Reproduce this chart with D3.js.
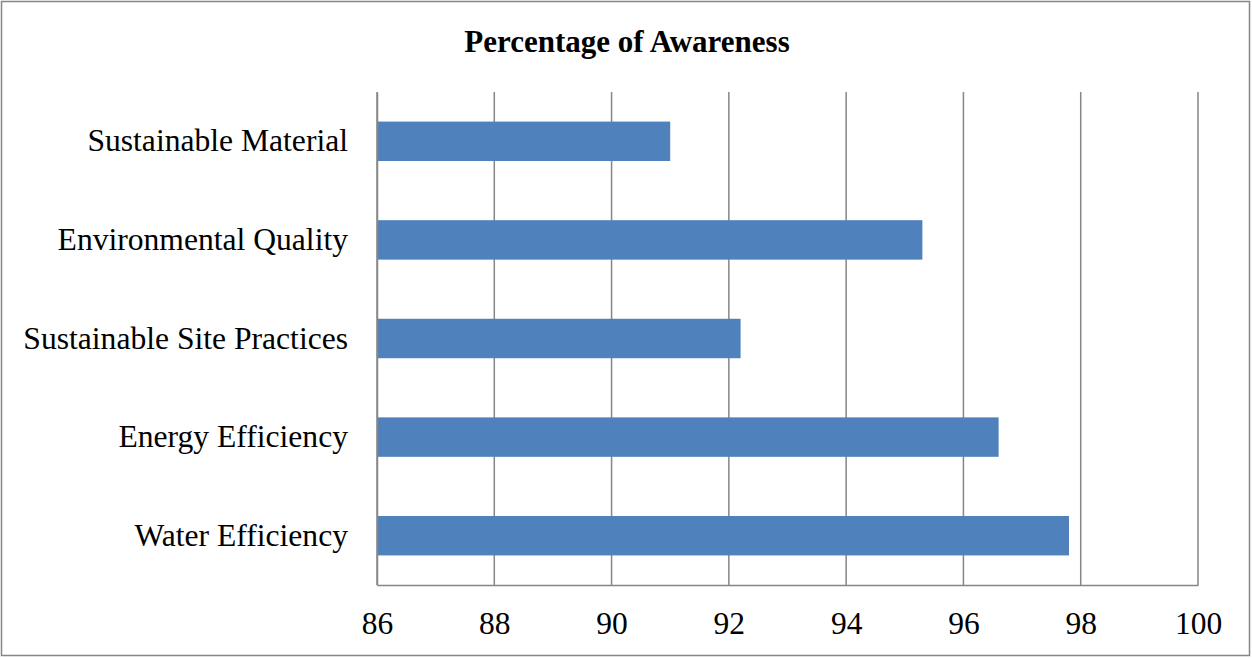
<!DOCTYPE html>
<html>
<head>
<meta charset="utf-8">
<script src="https://cdn.jsdelivr.net/npm/d3@7"></script>
<style>
  html, body { margin: 0; padding: 0; background: #fff; }
  svg { display: block; }
</style>
</head>
<body>
<svg id="chart" width="1252" height="658"></svg>
<script>
// Awareness by sustainability category (percent)
const categories = [
  "Sustainable Material",
  "Environmental Quality",
  "Sustainable Site Practices",
  "Energy Efficiency",
  "Water Efficiency"
];
const awareness = [91.0, 95.3, 92.2, 96.6, 97.8];
const xTicks = [86, 88, 90, 92, 94, 96, 98, 100];
const chartTitle = "Percentage of Awareness";

const svg = d3.select("#chart");
const W = 1252, H = 658;
const margin = { top: 92, right: 54, bottom: 73, left: 377 };
const innerW = W - margin.left - margin.right;
const innerH = H - margin.top - margin.bottom;
const font = "'Liberation Serif', 'Times New Roman', serif";
const gridColor = "#868686";

// outer frame
svg.append("rect")
  .attr("x", 1.5).attr("y", 1.5)
  .attr("width", W - 4).attr("height", H - 4)
  .attr("fill", "#fff")
  .attr("stroke", gridColor)
  .attr("stroke-width", 1.5);

svg.append("text")
  .attr("x", 627).attr("y", 52)
  .attr("text-anchor", "middle")
  .attr("font-family", font)
  .attr("font-weight", "bold")
  .attr("font-size", 31)
  .attr("fill", "#000")
  .text(chartTitle);

const x = d3.scaleLinear().domain([86, 100]).range([0, innerW]);
const y = d3.scaleBand().domain(categories).range([0, innerH]).paddingInner(0.6).paddingOuter(0.3);

const g = svg.append("g").attr("transform", `translate(${margin.left},${margin.top})`);

// vertical gridlines
g.append("g")
  .selectAll("line")
  .data(xTicks)
  .join("line")
  .attr("x1", d => x(d)).attr("x2", d => x(d))
  .attr("y1", 0).attr("y2", innerH)
  .attr("stroke", gridColor)
  .attr("stroke-width", 1.5);

// bars
g.append("g")
  .selectAll("rect")
  .data(categories)
  .join("rect")
  .attr("x", x(86))
  .attr("y", d => y(d))
  .attr("width", (d, i) => x(awareness[i]) - x(86))
  .attr("height", y.bandwidth())
  .attr("fill", "#4F81BD");

// x axis
const xAxis = g.append("g")
  .attr("transform", `translate(0,${innerH})`)
  .call(d3.axisBottom(x).tickValues(xTicks).tickSize(0).tickPadding(27).tickFormat(d3.format("d")));
xAxis.select(".domain").attr("stroke", gridColor).attr("stroke-width", 1.5);
xAxis.selectAll("text")
  .attr("font-family", font)
  .attr("font-size", 31.5)
  .attr("fill", "#000");

// y axis
const yAxis = g.append("g")
  .call(d3.axisLeft(y).tickSize(0).tickPadding(29));
yAxis.select(".domain").attr("stroke", gridColor).attr("stroke-width", 1.5);
yAxis.selectAll("text")
  .attr("font-family", font)
  .attr("font-size", 31.6)
  .attr("fill", "#000");
</script>
</body>
</html>
